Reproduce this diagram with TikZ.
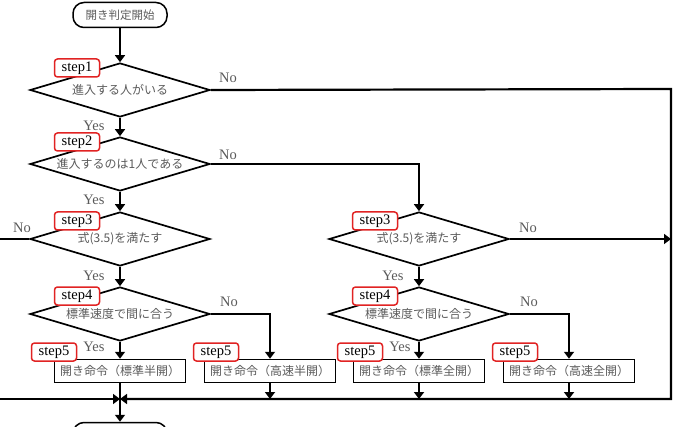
\documentclass[tikz,border=0pt]{standalone}
\usepackage{fontspec}
\setmainfont{Liberation Serif}
\newfontfamily\jpfont{Noto Sans CJK JP}
\usetikzlibrary{shapes.geometric,arrows.meta}
\definecolor{txtgray}{RGB}{90,90,90}
\definecolor{stepred}{RGB}{225,35,35}
\tikzset{
  cond/.style={draw, line width=1.7pt, diamond, aspect=3.33, minimum width=180pt, minimum height=54pt, inner sep=0pt, font=\jpfont\fontsize{12}{13}\selectfont, text=txtgray},
  act/.style={draw, line width=1.5pt, minimum width=131pt, minimum height=23pt, inner sep=0pt, font=\jpfont\fontsize{12}{13}\selectfont, text=txtgray},
  term/.style={draw, line width=1.5pt, rounded corners=11pt, minimum width=94pt, minimum height=25pt, inner sep=0pt, font=\jpfont\fontsize{11.5}{13}\selectfont, text=txtgray},
  steptag/.style={draw=stepred, line width=1.5pt, rounded corners=3pt, fill=white, minimum width=45pt, minimum height=18pt, inner sep=0pt, font=\fontsize{14.5}{14}\selectfont},
  yn/.style={font=\fontsize{14.5}{14}\selectfont, text=txtgray, inner sep=0pt},
  flow/.style={line width=2.2pt},
  arr/.style={flow, -{Triangle[width=10pt,length=7pt]}}
}
\begin{document}
\begin{tikzpicture}[x=1pt,y=-1pt]
\useasboundingbox (0,0) rectangle (676,427);
% start / end
\node[term] (start) at (120,15) {開き判定開始};
\node[term] (stop) at (120,435) {};
% left column
\node[cond] (d1) at (120,90) {進入する人がいる};
\node[cond] (d2) at (120,164) {進入するのは1人である};
\node[cond] (d3) at (120,239) {式(3.5)を満たす};
\node[cond] (d4) at (120,314) {標準速度で間に合う};
\node[act] (b1) at (120,371) {開き命令（標準半開）};
\node[act] (b2) at (270,371) {開き命令（高速半開）};
% right column
\node[cond] (d3r) at (419,239) {式(3.5)を満たす};
\node[cond] (d4r) at (419,314) {標準速度で間に合う};
\node[act] (b3) at (419,371) {開き命令（標準全開）};
\node[act] (b4) at (569,371) {開き命令（高速全開）};
% junctions
\coordinate (tr) at (671,89);
\coordinate (br) at (671,399);
\coordinate (jm) at (120,399);
\coordinate (tl) at (-3,239);
\coordinate (bl) at (-3,399);
% connectors
\draw[arr] (start) -- (d1);
\draw[arr] (d1) -- (d2);
\draw[arr] (d2) -- (d3);
\draw[arr] (d3) -- (d4);
\draw[arr] (d4) -- (b1);
\draw[arr] (d4.east) -| (b2.north);
\draw[arr] (d2.east) -| (d3r.north);
\draw[arr] (d3r) -- (d4r);
\draw[arr] (d4r) -- (b3);
\draw[arr] (d4r.east) -| (b4.north);
\draw[arr] (d1.east) -- (tr) -- (br) -- (jm);
\draw[arr] (d3.west) -- (tl) -- (bl) -- (jm);
\draw[arr] (d3r.east) -- (d3r.east -| tr);
\draw[arr] (b2.south) -- (b2.south |- jm);
\draw[arr] (b3.south) -- (b3.south |- jm);
\draw[arr] (b4.south) -- (b4.south |- jm);
\draw[arr] (b1) -- (stop);
% yes / no
\node[yn] (n1) at (228,78) {No};
\node[yn] (y1) at (94,126) {Yes};
\node[yn] (n2) at (228,155) {No};
\node[yn] (y2) at (94,200) {Yes};
\node[yn] (n3) at (22,228) {No};
\node[yn] (y3) at (94,276) {Yes};
\node[yn] (n4) at (229,302) {No};
\node[yn] (y4) at (94,347) {Yes};
\node[yn] (n3r) at (528,228) {No};
\node[yn] (y3r) at (393,276) {Yes};
\node[yn] (n4r) at (529,302) {No};
\node[yn] (y4r) at (400,347) {Yes};
% step tags
\node[steptag] (s1) at (77,68) {step1};
\node[steptag] (s2) at (77,142) {step2};
\node[steptag] (s3) at (77,221) {step3};
\node[steptag] (s4) at (77,296) {step4};
\node[steptag] (s5a) at (54,352) {step5};
\node[steptag] (s5b) at (216,352) {step5};
\node[steptag] (s3r) at (375,221) {step3};
\node[steptag] (s4r) at (375,296) {step4};
\node[steptag] (s5c) at (360,352) {step5};
\node[steptag] (s5d) at (515,352) {step5};
\end{tikzpicture}
\end{document}
